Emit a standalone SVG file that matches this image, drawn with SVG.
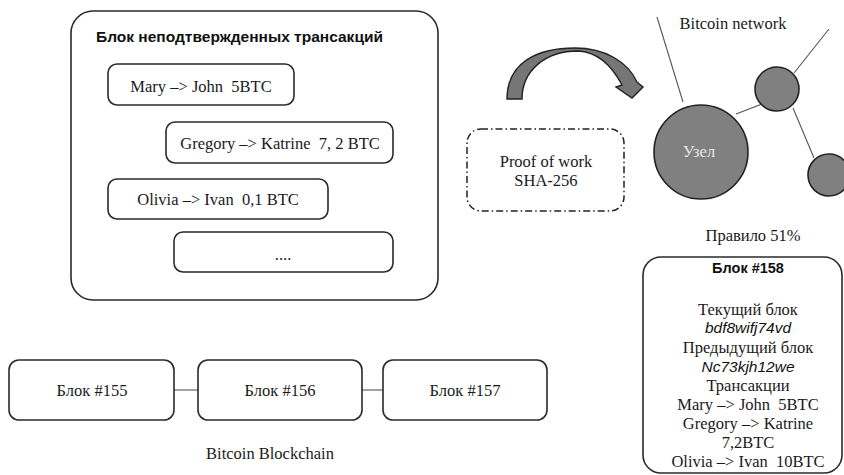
<svg xmlns="http://www.w3.org/2000/svg" width="844" height="475" viewBox="0 0 844 475">
<style>
.box{fill:#fff;stroke:#2a2a2a;stroke-width:1.6}
.t{font-family:"Liberation Serif","Times New Roman",serif;font-size:16.5px;fill:#1a1a1a;text-anchor:middle;white-space:pre}
.b{font-family:"Liberation Sans",Arial,sans-serif;font-weight:bold;font-size:14.5px;fill:#111}
.i{font-family:"Liberation Sans",Arial,sans-serif;font-style:italic;font-size:15.5px;fill:#111;text-anchor:middle}
.node{fill:#808080;stroke:#222;stroke-width:1.6}
.edge{stroke:#555;stroke-width:1.1;fill:none}
</style>
<rect width="844" height="475" fill="#fff"/>
<g id="connectors">
<line class="edge" x1="174" y1="390" x2="198" y2="390"/>
<line class="edge" x1="362" y1="390" x2="383" y2="390"/>
<line class="edge" x1="657" y1="17" x2="683" y2="102"/>
<line class="edge" x1="736" y1="114" x2="762" y2="104"/>
<line class="edge" x1="794" y1="73" x2="829" y2="29"/>
<line class="edge" x1="793" y1="108" x2="814" y2="158"/>
</g>
<g id="unconfirmed-block">
<rect class="box" x="71" y="11" width="367" height="289" rx="22"/>
<text class="b" x="96" y="42" textLength="287" lengthAdjust="spacingAndGlyphs">Блок неподтвержденных трансакций</text>
</g>
<g id="tx1">
<rect class="box" x="108" y="64" width="186" height="41" rx="9"/>
<text class="t" x="201" y="92" xml:space="preserve">Mary –&gt; John  5BTC</text>
</g>
<g id="tx2">
<rect class="box" x="166" y="122" width="227" height="41" rx="9"/>
<text class="t" x="280" y="149" xml:space="preserve">Gregory –&gt; Katrine  7, 2 BTC</text>
</g>
<g id="tx3">
<rect class="box" x="108" y="179" width="220" height="40" rx="9"/>
<text class="t" x="218" y="205" xml:space="preserve">Olivia –&gt; Ivan  0,1 BTC</text>
</g>
<g id="tx4">
<rect class="box" x="174" y="232" width="219" height="40" rx="9"/>
<text class="t" x="283" y="260">....</text>
</g>
<g id="arrow">
<path d="M507,99 C507,62 538,48 575,48 C605,48 628,62 637,82 L643,87 L632,98 L616,87 L622,85 C612,66 598,52 578,51 C546,51 522,70 522,99 Z" fill="#767676" stroke="#222" stroke-width="1.4" stroke-linejoin="miter"/>
</g>
<g id="pow">
<rect x="467" y="129" width="157" height="82" rx="14" fill="#fff" stroke="#222" stroke-width="1.5" stroke-dasharray="7,3,1.5,3"/>
<text class="t" x="546" y="167">Proof of work</text>
<text class="t" x="546" y="186">SHA-256</text>
</g>
<g id="network-label">
<text class="t" x="733" y="29">Bitcoin network</text>
</g>
<g id="node-main">
<circle class="node" cx="701" cy="152" r="47"/>
<text class="t" x="699" y="157" style="fill:#e6e6e6">Узел</text>
</g>
<g id="node-2">
<circle class="node" cx="777" cy="89" r="22"/>
</g>
<g id="node-3">
<circle class="node" cx="829" cy="175" r="21"/>
</g>
<g id="rule">
<text class="t" x="753" y="241">Правило 51%</text>
</g>
<g id="block158">
<rect class="box" x="643" y="257" width="199" height="216" rx="18"/>
<text class="b" x="748" y="273" text-anchor="middle">Блок #158</text>
<text class="t" x="748" y="315">Текущий блок</text>
<text class="i" x="748" y="333">bdf8wifj74vd</text>
<text class="t" x="748" y="353">Предыдущий блок</text>
<text class="i" x="748" y="372">Nc73kjh12we</text>
<text class="t" x="748" y="391">Трансакции</text>
<text class="t" x="748" y="410" xml:space="preserve">Mary –&gt; John  5BTC</text>
<text class="t" x="748" y="429">Gregory –&gt; Katrine</text>
<text class="t" x="748" y="448">7,2BTC</text>
<text class="t" x="748" y="467" xml:space="preserve">Olivia –&gt; Ivan  10BTC</text>
</g>
<g id="block155">
<rect class="box" x="9" y="360" width="165" height="60" rx="10"/>
<text class="t" x="92" y="396">Блок #155</text>
</g>
<g id="block156">
<rect class="box" x="198" y="360" width="164" height="60" rx="10"/>
<text class="t" x="280" y="396">Блок #156</text>
</g>
<g id="block157">
<rect class="box" x="383" y="360" width="164" height="60" rx="10"/>
<text class="t" x="465" y="396">Блок #157</text>
</g>
<g id="chain-label">
<text class="t" x="270" y="459">Bitcoin Blockchain</text>
</g>
</svg>
